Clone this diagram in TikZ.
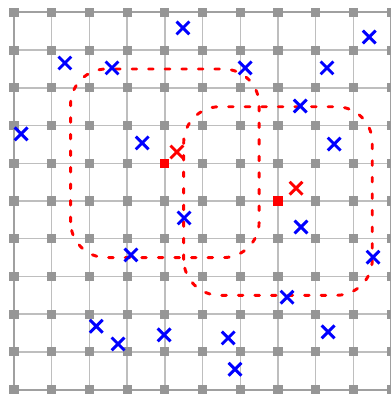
\documentclass[tikz,border=0pt]{standalone}
\usepackage{xcolor}
\usepackage{tikz}
\definecolor{grid-gray}{RGB}{190,190,190}
\definecolor{dot-gray}{RGB}{150,150,150}

\begin{document}
\begin{tikzpicture}[
    cross/.style={line width=2.2pt},
    window/.style={red, line width=2.2pt, line cap=round,
        dash pattern=on 3.5pt off 9pt, rounded corners=0.95cm}
  ]
            \useasboundingbox (-0.371,-0.17) rectangle (9.973,10.33);
            % grid
            \foreach \i in {1,...,9} {
                \draw[grid-gray, line width=1pt] (\i,0) -- (\i,10);
                \draw[grid-gray, line width=1pt] (0,\i) -- (10,\i);
            }
            \draw[dot-gray!90, line width=1.5pt] (0,0) rectangle (10,10);
            \foreach \i in {0,...,10}
                \foreach \j in {0,...,10}
                    \fill[dot-gray] (\i-0.12,\j-0.12) rectangle (\i+0.12,\j+0.12);
            % windows
            \draw[window] (1.5,3.5) rectangle (6.5,8.5);
            \draw[window] (4.5,2.5) rectangle (9.5,7.5);
            % centres
            \fill[red] (3.88,5.88) rectangle (4.12,6.12);
            \fill[red] (6.88,4.88) rectangle (7.12,5.12);
            % samples
            \foreach \x/\y in {4.48/9.59, 1.35/8.66, 2.60/8.53, 6.13/8.53, 8.30/8.53,
                9.42/9.35, 0.19/6.78, 3.40/6.54, 7.59/7.52, 8.49/6.51, 4.51/4.55,
                7.61/4.31, 3.10/3.57, 9.52/3.51, 7.24/2.45, 2.18/1.68, 2.76/1.21,
                3.98/1.45, 5.68/1.37, 8.33/1.53, 5.86/0.54}
                \draw[cross, blue] (\x-0.17,\y-0.17) -- (\x+0.17,\y+0.17)
                    (\x-0.17,\y+0.17) -- (\x+0.17,\y-0.17);
            \foreach \x/\y in {4.32/6.30, 7.48/5.34}
                \draw[cross, red] (\x-0.17,\y-0.17) -- (\x+0.17,\y+0.17)
                    (\x-0.17,\y+0.17) -- (\x+0.17,\y-0.17);
        \end{tikzpicture}
\end{document}
